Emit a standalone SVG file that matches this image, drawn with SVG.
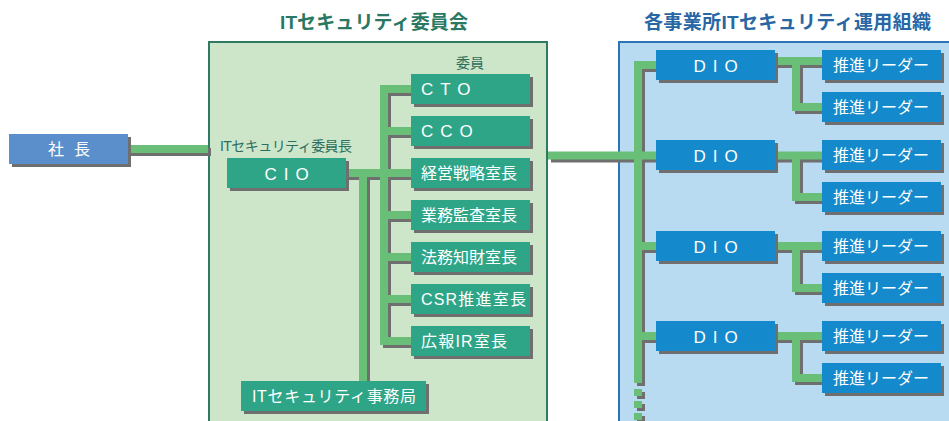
<svg xmlns="http://www.w3.org/2000/svg" xmlns:xlink="http://www.w3.org/1999/xlink" width="949" height="421" viewBox="0 0 949 421">
<style>
text{font-family:"Liberation Sans","Noto Sans CJK JP",sans-serif;}
.title1{font-size:19px;font-weight:bold;fill:#2b7862;}
.title2{font-size:19px;font-weight:bold;fill:#2867a4;}
.lbl{font-size:14px;fill:#2b6e5c;}
.wt{font-size:16px;fill:#ffffff;}
.sp{font-size:17px;fill:#ffffff;letter-spacing:7px;}
.shadow{fill:#6f6f6f;}
.teal{fill:#2fa588;}
.blue{fill:#1489cb;}
.pres{fill:#5a8fcb;}
.cl{fill:none;stroke:#6abf78;stroke-width:8;stroke-linecap:butt;stroke-linejoin:miter;}
.cs{fill:none;stroke:#6f6f6f;stroke-width:8;stroke-linecap:butt;stroke-linejoin:miter;}
.dot{fill:#6abf78;}
</style>
<defs>
<g id="conn-paths">
<path d="M128 149 H208"/>
<path d="M346 173 H411"/>
<path d="M411 89 H384 V341 H411"/>
<path d="M384 131 H411 M384 215 H411 M384 257 H411 M384 299 H411"/>
<path d="M363 173 V381"/>
<path d="M548 155.5 H656"/>
<path d="M656 65 H638 V383"/>
<path d="M638 246 H656 M638 336 H656"/>
<path d="M775 61 H822 M796 61 V107 H822"/>
<path d="M775 155.5 H822 M796 155.5 V197 H822"/>
<path d="M775 246 H822 M796 246 V288 H822"/>
<path d="M775 336 H822 M796 336 V378 H822"/>
</g>
<g id="dots">
<rect x="634" y="389" width="8" height="7"/>
<rect x="634" y="401" width="8" height="7"/>
<rect x="634" y="413" width="8" height="7"/>
</g>
</defs>

<!-- panels -->
<g id="committee-panel">
<rect x="209" y="42" width="338" height="400" fill="#cde6ca" stroke="#2e7a63" stroke-width="2"/>
<text class="title1" x="280" y="29" textLength="188" lengthAdjust="spacing">ITセキュリティ委員会</text>
<text class="lbl" x="220" y="151" textLength="132" lengthAdjust="spacing">ITセキュリティ委員長</text>
<text class="lbl" x="470" y="68" text-anchor="middle">委員</text>
</g>
<g id="site-panel">
<rect x="619" y="42" width="340" height="400" fill="#b9dbf2" stroke="#2d74b6" stroke-width="2"/>
<text class="title2" x="644" y="29" textLength="287" lengthAdjust="spacing">各事業所ITセキュリティ運用組織</text>
</g>

<!-- connectors -->
<g id="connectors">
<use xlink:href="#conn-paths" href="#conn-paths" class="cs" transform="translate(3,3)"/>
<use xlink:href="#dots" href="#dots" class="shadow" transform="translate(3,3)"/>
<use xlink:href="#conn-paths" href="#conn-paths" class="cl"/>
<use xlink:href="#dots" href="#dots" class="dot"/>
</g>

<!-- nodes -->
<g id="president">
<rect class="shadow" x="12" y="137" width="119" height="30"/>
<rect class="pres" x="9" y="134" width="119" height="30"/>
<text class="wt" x="74" y="155" text-anchor="middle" letter-spacing="10">社長</text>
</g>
<g id="cio">
<rect class="shadow" x="230" y="161" width="119" height="30"/>
<rect class="teal" x="227" y="158" width="119" height="30"/>
<text class="sp" x="290" y="180" text-anchor="middle">CIO</text>
</g>
<g id="cto">
<rect class="shadow" x="414" y="77" width="119" height="30"/>
<rect class="teal" x="411" y="74" width="119" height="30"/>
<text class="sp" x="421" y="95">CTO</text>
</g>
<g id="cco">
<rect class="shadow" x="414" y="119" width="119" height="30"/>
<rect class="teal" x="411" y="116" width="119" height="30"/>
<text class="sp" x="421" y="137">CCO</text>
</g>
<g id="keiei">
<rect class="shadow" x="414" y="161" width="119" height="30"/>
<rect class="teal" x="411" y="158" width="119" height="30"/>
<text class="wt" x="421" y="179">経営戦略室長</text>
</g>
<g id="kansa">
<rect class="shadow" x="414" y="203" width="119" height="30"/>
<rect class="teal" x="411" y="200" width="119" height="30"/>
<text class="wt" x="421" y="221">業務監査室長</text>
</g>
<g id="houmu">
<rect class="shadow" x="414" y="245" width="119" height="30"/>
<rect class="teal" x="411" y="242" width="119" height="30"/>
<text class="wt" x="421" y="263">法務知財室長</text>
</g>
<g id="csr">
<rect class="shadow" x="414" y="287" width="119" height="30"/>
<rect class="teal" x="411" y="284" width="119" height="30"/>
<text class="wt" x="421" y="305" textLength="105" lengthAdjust="spacing">CSR推進室長</text>
</g>
<g id="ir">
<rect class="shadow" x="414" y="329" width="119" height="30"/>
<rect class="teal" x="411" y="326" width="119" height="30"/>
<text class="wt" x="421" y="347" textLength="86" lengthAdjust="spacing">広報IR室長</text>
</g>
<g id="secretariat">
<rect class="shadow" x="244" y="384" width="185" height="30"/>
<rect class="teal" x="241" y="381" width="185" height="30"/>
<text class="wt" x="252" y="402" textLength="164" lengthAdjust="spacing">ITセキュリティ事務局</text>
</g>

<g id="dio1">
<rect class="shadow" x="659" y="53" width="119" height="30"/>
<rect class="blue" x="656" y="50" width="119" height="30"/>
<text class="sp" x="719" y="72" text-anchor="middle">DIO</text>
</g>
<g id="leader1a">
<rect class="shadow" x="825" y="53" width="119" height="30"/>
<rect class="blue" x="822" y="50" width="119" height="30"/>
<text class="wt" x="881" y="71" text-anchor="middle">推進リーダー</text>
</g>
<g id="leader1b">
<rect class="shadow" x="825" y="95" width="119" height="30"/>
<rect class="blue" x="822" y="92" width="119" height="30"/>
<text class="wt" x="881" y="113" text-anchor="middle">推進リーダー</text>
</g>

<g id="dio2">
<rect class="shadow" x="659" y="143" width="119" height="30"/>
<rect class="blue" x="656" y="140" width="119" height="30"/>
<text class="sp" x="719" y="162" text-anchor="middle">DIO</text>
</g>
<g id="leader2a">
<rect class="shadow" x="825" y="143" width="119" height="30"/>
<rect class="blue" x="822" y="140" width="119" height="30"/>
<text class="wt" x="881" y="161" text-anchor="middle">推進リーダー</text>
</g>
<g id="leader2b">
<rect class="shadow" x="825" y="185" width="119" height="30"/>
<rect class="blue" x="822" y="182" width="119" height="30"/>
<text class="wt" x="881" y="203" text-anchor="middle">推進リーダー</text>
</g>

<g id="dio3">
<rect class="shadow" x="659" y="234" width="119" height="30"/>
<rect class="blue" x="656" y="231" width="119" height="30"/>
<text class="sp" x="719" y="253" text-anchor="middle">DIO</text>
</g>
<g id="leader3a">
<rect class="shadow" x="825" y="234" width="119" height="30"/>
<rect class="blue" x="822" y="231" width="119" height="30"/>
<text class="wt" x="881" y="252" text-anchor="middle">推進リーダー</text>
</g>
<g id="leader3b">
<rect class="shadow" x="825" y="276" width="119" height="30"/>
<rect class="blue" x="822" y="273" width="119" height="30"/>
<text class="wt" x="881" y="294" text-anchor="middle">推進リーダー</text>
</g>

<g id="dio4">
<rect class="shadow" x="659" y="324" width="119" height="30"/>
<rect class="blue" x="656" y="321" width="119" height="30"/>
<text class="sp" x="719" y="343" text-anchor="middle">DIO</text>
</g>
<g id="leader4a">
<rect class="shadow" x="825" y="324" width="119" height="30"/>
<rect class="blue" x="822" y="321" width="119" height="30"/>
<text class="wt" x="881" y="342" text-anchor="middle">推進リーダー</text>
</g>
<g id="leader4b">
<rect class="shadow" x="825" y="366" width="119" height="30"/>
<rect class="blue" x="822" y="363" width="119" height="30"/>
<text class="wt" x="881" y="384" text-anchor="middle">推進リーダー</text>
</g>
</svg>
